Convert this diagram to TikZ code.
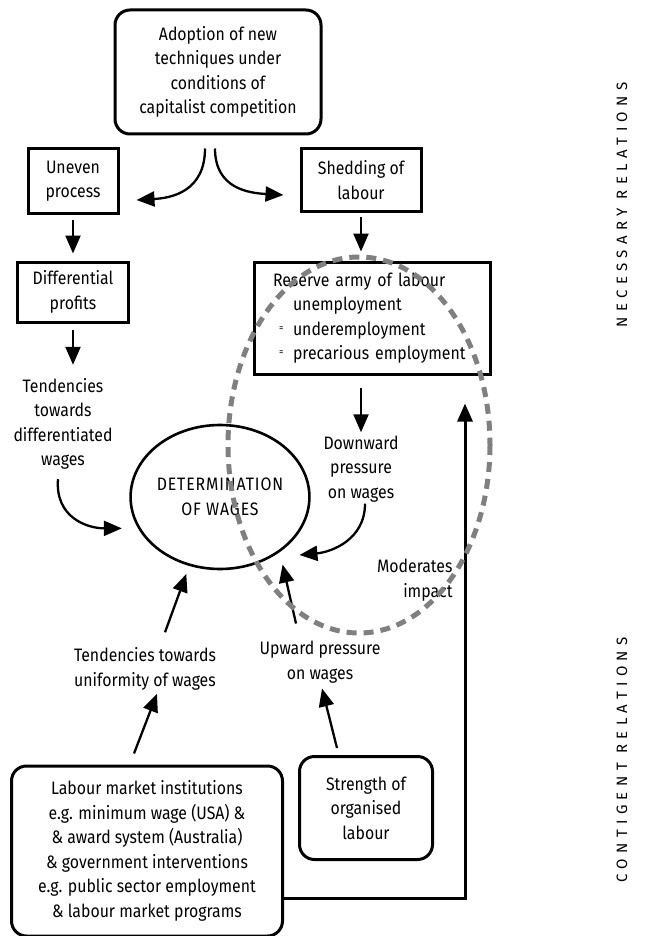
\documentclass[tikz,border=0pt]{standalone}
\usepackage{fontspec}
\setmainfont[FakeStretch=0.88]{Fira Sans}
\newfontfamily\capsfont[LetterSpace=36]{Fira Sans}
\usetikzlibrary{shapes.geometric,arrows.meta}
\begin{document}
\begin{tikzpicture}[x=1pt,y=-1pt]
%define
\tikzstyle{every node} = [font=\fontsize{18}{24.5}\selectfont]
\tikzstyle{box} = [rectangle, draw=black, line width=3pt, text centered, align=center]
\tikzstyle{rbox} = [box, rounded corners=15pt]
\tikzstyle{note} = [text centered, align=center]
\tikzstyle{title} = [ellipse, draw=black, line width=2.6pt, align=center, inner sep=0pt, font=\fontsize{18}{24.5}\selectfont\addfontfeature{LetterSpace=5}]
\tikzstyle{side} = [rotate=90, font=\capsfont\fontsize{15}{16}\selectfont]
\tikzstyle{arrow} = [-{Triangle[length=18pt,width=15pt]}, line width=2.3pt]
\tikzstyle{dashring} = [draw=gray, line width=5pt, dash pattern=on 10pt off 7pt]
\newcommand{\eqmark}{\makebox[14pt][l]{\raisebox{4pt}{\fontsize{10}{10}\selectfont=}}}

\useasboundingbox (0,0) rectangle (646,936);

%upper part
\node[rbox, minimum width=206pt, minimum height=124pt](adopt) at (218,72){Adoption of new\\techniques under\\conditions of\\capitalist competition};
\node[box, minimum width=90pt, minimum height=64pt](uneven) at (73,181){Uneven\\process};
\node[box, minimum width=120pt, minimum height=62pt](shed) at (361,180){Shedding of\\labour};
\node[box, minimum width=111pt, minimum height=60pt](diff) at (73,292){Differential\\profits};
\node[box, text width=198pt, inner xsep=19pt, minimum height=112pt, align=left](reserve) at (372,318){Reserve army of labour\\
\hspace*{20pt}unemployment\\
\hspace*{6pt}\eqmark underemployment\\
\hspace*{6pt}\eqmark precarious employment};

%middle part
\node[note](tendiff) at (63,424){Tendencies\\towards\\differentiated\\wages};
\node[title, minimum width=168pt, minimum height=144pt](wages) at (220,497){DETERMINATION\\OF WAGES};
\node[note](down) at (361,469){Downward\\pressure\\on wages};
\node[note, align=right, anchor=east](moder) at (456,580){Moderates\\impact};
\node[note](upward) at (320,662){Upward pressure\\on wages};
\node[note](tenduni) at (145,669){Tendencies towards\\uniformity of wages};

%lower part
\node[rbox, minimum width=133pt, minimum height=103pt](strength) at (366,808){Strength of\\organised\\labour};
\node[rbox, minimum width=271pt, minimum height=170pt](labour) at (147,851){Labour market institutions\\e.g. minimum wage (USA) \&\\\& award system (Australia)\\\& government interventions\\e.g. public sector employment\\\& labour market programs};

%side labels
\node[side](necess) at (622,205){NECESSARY RELATIONS};
\node[side](contig) at (622,760){CONTIGENT RELATIONS};

%line
\draw[arrow]([shift={(-13,13)}]adopt.south) .. controls +(0,43) and +(35,-2) .. ([shift={(17,19)}]uneven.east);
\draw[arrow]([shift={(-3,13)}]adopt.south) .. controls +(0,40) and +(-35,-2) .. ([shift={(-16,15)}]shed.west);
\draw[arrow, shorten <=5pt, shorten >=7pt](uneven)--(diff);
\draw[arrow, shorten <=4pt, shorten >=9pt](shed.south)--(shed.south |- reserve.north);
\draw[arrow, shorten <=6pt, shorten >=10pt](diff.south)--(diff.south |- tendiff.north);
\draw[arrow, shorten <=12pt](reserve.south -| down.north)--(down.north);
\draw[arrow]([shift={(-5,6)}]tendiff.south) .. controls +(-3,38) and +(-35,0) .. ([shift={(-14,4)}]wages.198);
\draw[arrow]([shift={(4,-2)}]down.south) .. controls +(0,36) and +(32,-3) .. ([shift={(12,9)}]wages.324);
\draw[arrow]([shift={(-24,-14)}]upward.north)--([shift={(8,9)}]wages.313);
\draw[arrow]([shift={(-29,-7)}]strength.north)--([shift={(2,2)}]upward.south);
\draw[arrow]([shift={(-13,-11)}]labour.north)--([shift={(12,0)}]tenduni.south);
\draw[arrow]([shift={(20,-12)}]tenduni.north)--([shift={(-3,8)}]wages.246);
\draw[arrow, line width=3pt]([shift={(0,47)}]labour.east) -| ([shift={(93,28)}]reserve.south);

%dashed ring
\draw[dashring](359,445) ellipse [x radius=131, y radius=188];

\end{tikzpicture}
\end{document}
